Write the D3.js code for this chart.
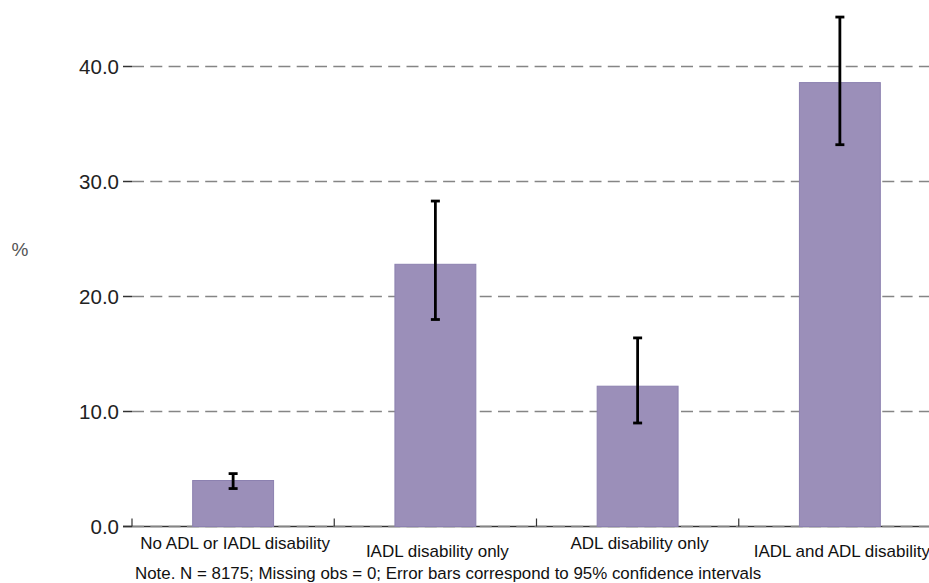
<!DOCTYPE html>
<html>
<head>
<meta charset="utf-8">
<script src="https://cdn.jsdelivr.net/npm/d3@7"></script>
<style>
    body { margin: 0; background: white; }
    svg { display: block; }
</style>
</head>
<body>
<div id="chart"></div>
<script>

//Data
var categories = ["No ADL or IADL disability", "IADL disability only", "ADL disability only", "IADL and ADL disability"];
var values = [4.0, 22.8, 12.2, 38.6];
var lower = [3.3, 18.0, 9.0, 33.2];
var upper = [4.6, 28.3, 16.4, 44.3];
var yTicks = [0, 10, 20, 30, 40];
var yLabel = "%";
var note = "Note. N = 8175; Missing obs = 0; Error bars correspond to 95% confidence intervals";

//Width and Height
var w = 929;
var h = 583;
var margin = {left: 132, right: -12, top: 66.5, bottom: 56.5};

var barColor = "#9b8fb9";
var font = "Liberation Sans, Arial, sans-serif";

var svg = d3.select("#chart")
    .append("svg")
    .attr("width", w)
    .attr("height", h);

//Scales
var x = d3.scaleBand()
    .domain(categories)
    .range([margin.left, w - margin.right])
    .paddingInner(0.6)
    .paddingOuter(0.3);

var y = d3.scaleLinear()
    .domain([0, 40])
    .range([h - margin.bottom, margin.top]);

var step = x.step();

//Axis line at zero
svg.append("line")
    .attr("x1", margin.left - 9)
    .attr("x2", w)
    .attr("y1", y(0))
    .attr("y2", y(0))
    .style("stroke", "#333")
    .style("stroke-width", 1.5);

//Dashed gridlines
svg.append("g")
    .attr("class", "grid")
    .selectAll("line")
    .data(yTicks)
    .enter()
    .append("line")
    .attr("x1", margin.left)
    .attr("x2", w)
    .attr("y1", d => y(d))
    .attr("y2", d => y(d))
    .style("stroke", "#858585")
    .style("stroke-width", 1.5)
    .style("stroke-dasharray", "12,6.3");

//Y ticks and labels
var yAxis = svg.append("g").attr("class", "y-axis");

yAxis.selectAll("line")
    .data(yTicks)
    .enter()
    .append("line")
    .attr("x1", margin.left - 9)
    .attr("x2", margin.left)
    .attr("y1", d => y(d))
    .attr("y2", d => y(d))
    .style("stroke", "#333")
    .style("stroke-width", 1.5);

yAxis.selectAll("text")
    .data(yTicks)
    .enter()
    .append("text")
    .attr("x", margin.left - 13)
    .attr("y", d => y(d))
    .attr("dy", "0.36em")
    .attr("text-anchor", "end")
    .style("font-family", font)
    .style("font-size", "20.5px")
    .style("fill", "#222")
    .text(d => d3.format(".1f")(d));

svg.append("text")
    .attr("x", 20)
    .attr("y", 249)
    .attr("dy", "0.36em")
    .attr("text-anchor", "middle")
    .style("font-family", font)
    .style("font-size", "19px")
    .style("fill", "#555")
    .text(yLabel);

//Category boundary ticks
svg.append("g")
    .attr("class", "x-ticks")
    .selectAll("line")
    .data(categories)
    .enter()
    .append("line")
    .attr("x1", (d, i) => x.range()[0] + i * step)
    .attr("x2", (d, i) => x.range()[0] + i * step)
    .attr("y1", y(0))
    .attr("y2", y(0) - 8)
    .style("stroke", "#333")
    .style("stroke-width", 1.2);

//Bars
svg.append("g")
    .attr("class", "bars")
    .selectAll("rect")
    .data(categories)
    .enter()
    .append("rect")
    .attr("x", d => x(d))
    .attr("y", (d, i) => y(values[i]))
    .attr("width", x.bandwidth())
    .attr("height", (d, i) => y(0) - y(values[i]))
    .style("fill", barColor)
    .style("stroke", "#8c81b0")
    .style("stroke-width", 1);

//Error bars
var err = svg.append("g").attr("class", "errors");

err.selectAll(".stem")
    .data(categories)
    .enter()
    .append("line")
    .attr("class", "stem")
    .attr("x1", d => x(d) + x.bandwidth() / 2)
    .attr("x2", d => x(d) + x.bandwidth() / 2)
    .attr("y1", (d, i) => y(lower[i]))
    .attr("y2", (d, i) => y(upper[i]))
    .style("stroke", "#000")
    .style("stroke-width", 2.8);

[lower, upper].forEach(function(arr) {
    err.append("g")
        .selectAll("line")
        .data(categories)
        .enter()
        .append("line")
        .attr("x1", d => x(d) + x.bandwidth() / 2 - 4.5)
        .attr("x2", d => x(d) + x.bandwidth() / 2 + 4.5)
        .attr("y1", (d, i) => y(arr[i]))
        .attr("y2", (d, i) => y(arr[i]))
        .style("stroke", "#000")
        .style("stroke-width", 2.8);
});

//Category labels, staggered
svg.append("g")
    .attr("class", "x-labels")
    .selectAll("text")
    .data(categories)
    .enter()
    .append("text")
    .attr("x", d => x(d) + x.bandwidth() / 2 + 2)
    .attr("y", (d, i) => i % 2 == 0 ? 549 : 557)
    .attr("text-anchor", "middle")
    .style("font-family", font)
    .style("font-size", "17px")
    .style("fill", "#111")
    .text(d => d);

//Note
svg.append("text")
    .attr("x", 135)
    .attr("y", 578.5)
    .style("font-family", font)
    .style("font-size", "16.9px")
    .style("fill", "#111")
    .text(note);

</script>
</body>
</html>
